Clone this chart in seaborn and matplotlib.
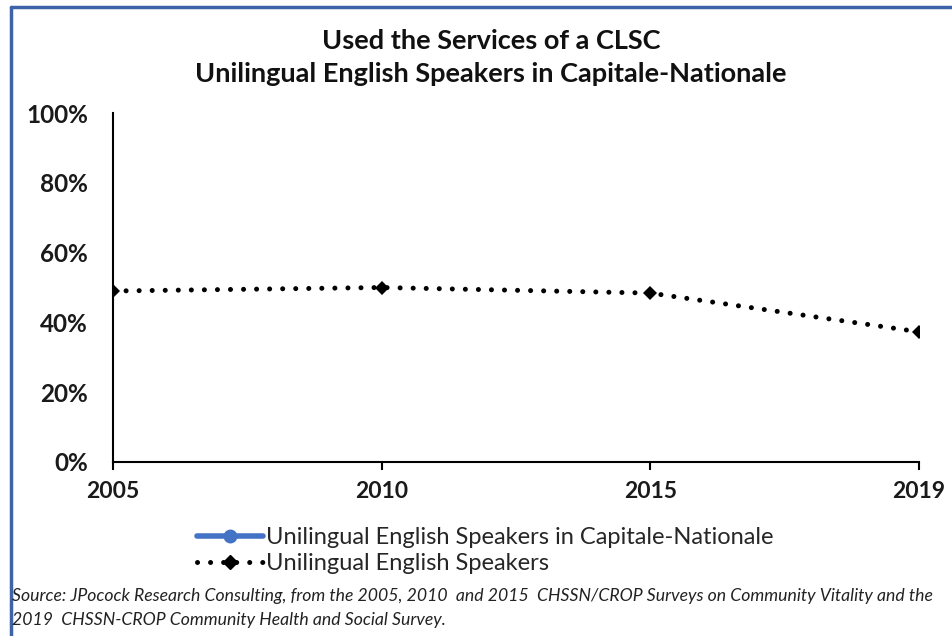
import matplotlib
matplotlib.use("Agg")
import matplotlib.pyplot as plt
from matplotlib.lines import Line2D
from matplotlib.ticker import PercentFormatter
import seaborn as sns
import pandas as pd

# data
years = ["2005", "2010", "2015", "2019"]
english_speakers = [0.49, 0.50, 0.484, 0.373]
capitale_nationale = []  # no values shown in the chart

sns.set_theme(style="white")
plt.rcParams['font.family'] = ['Lato', 'DejaVu Sans']

df = pd.DataFrame({"pos": range(len(years)), "share": english_speakers})

dotted = (0, (0.01, 2.6))

fig = plt.figure(figsize=(9.53, 6.36), dpi=100)
ax = fig.add_axes([0.1186, 0.2736, 0.8457, 0.5487])

sns.lineplot(data=df, x="pos", y="share", ax=ax, color="black",
             linestyle=dotted, linewidth=3.6, marker="D",
             markersize=7.5, markeredgewidth=0, dash_capstyle="round")

ax.set_xlim(0, len(years) - 1)
ax.set_ylim(0, 1)
ax.set_xticks(range(len(years)))
ax.set_xticklabels(years)
ax.set_yticks([0, 0.2, 0.4, 0.6, 0.8, 1.0])
ax.yaxis.set_major_formatter(PercentFormatter(1.0, decimals=0))
ax.set_xlabel("")
ax.set_ylabel("")
for lab in ax.get_xticklabels():
    lab.set_fontweight("bold")
    lab.set_fontsize(16.5)
    lab.set_color("#1a1a1a")
for lab in ax.get_yticklabels():
    lab.set_fontweight("bold")
    lab.set_fontsize(17.5)
    lab.set_color("#1a1a1a")
ax.tick_params(axis="x", direction="out", length=6, width=1.5, color="black", pad=8, bottom=True)
ax.tick_params(axis="y", length=0, pad=18)

sns.despine(ax=ax, top=True, right=True)
for s in ["left", "bottom"]:
    ax.spines[s].set_color("black")
    ax.spines[s].set_linewidth(1.5)

fig.text(0.515, 0.935, "Used the Services of a CLSC", ha="center", va="center",
         fontsize=19.5, fontweight="bold", color="#111111")
fig.text(0.515, 0.883, "Unilingual English Speakers in Capitale-Nationale", ha="center",
         va="center", fontsize=19.5, fontweight="bold", color="#111111")

handles = [
    Line2D([], [], color="#4472C4", linewidth=4, marker="o", markersize=9),
    Line2D([], [], color="black", linestyle=dotted, linewidth=3.6,
           marker="D", markersize=7.5, dash_capstyle="round"),
]
labels = ["Unilingual English Speakers in Capitale-Nationale", "Unilingual English Speakers"]
fig.legend(handles, labels, loc="upper left", bbox_to_anchor=(0.197, 0.186),
           frameon=False, fontsize=17, handlelength=2.8, handletextpad=0.1,
           labelspacing=0.22, borderaxespad=0, bbox_transform=fig.transFigure)

fig.text(0.013, 0.063, "Source: JPocock Research Consulting, from the 2005, 2010  and 2015  CHSSN/CROP Surveys on Community Vitality and the",
         fontsize=12.7, style="italic", color="#222222", va="center")
fig.text(0.013, 0.025, "2019  CHSSN-CROP Community Health and Social Survey.",
         fontsize=12.7, style="italic", color="#222222", va="center")

# frame edges visible in the screenshot
fig.add_artist(Line2D([0.0115, 0.0115], [0, 0.989], transform=fig.transFigure,
                      color="#3F63A8", linewidth=2.5))
fig.add_artist(Line2D([0.0115, 1.0], [0.989, 0.989], transform=fig.transFigure,
                      color="#3F63A8", linewidth=2.5))

fig.savefig("out.png", dpi=100)
